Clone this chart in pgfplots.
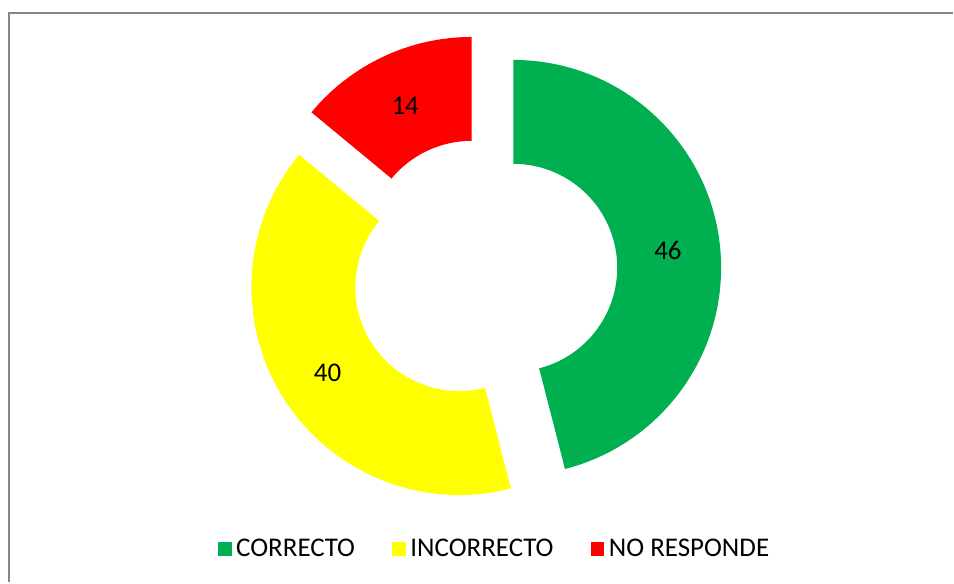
\documentclass[border=0pt]{standalone}
\usepackage{pgfplots}
\pgfplotsset{compat=1.18}
\usepackage{fontspec}
\setmainfont{Carlito}

\definecolor{cgreen}{HTML}{00B050}
\definecolor{cyellow}{HTML}{FFFF00}
\definecolor{cred}{HTML}{FF0000}
\definecolor{frame}{HTML}{868686}

% donut geometry (axis units = pt)
\def\cx{484.6}
\def\cy{311.3}
\def\Ro{208}
\def\Ri{104}
\def\dd{29.5}

% \slice{cum start}{cum end}{colour}{value}, percent of the whole, clockwise from top
\newcommand{\slice}[4]{%
  \pgfmathsetmacro\aS{90-3.6*#1}%
  \pgfmathsetmacro\aE{90-3.6*#2}%
  \pgfmathsetmacro\aM{(\aS+\aE)/2}%
  \pgfmathsetmacro\ox{\cx+\dd*cos(\aM)}%
  \pgfmathsetmacro\oy{\cy+\dd*sin(\aM)}%
  \pgfmathsetmacro\px{\ox+\Ro*cos(\aS)}%
  \pgfmathsetmacro\py{\oy+\Ro*sin(\aS)}%
  \pgfmathsetmacro\qx{\ox+\Ri*cos(\aE)}%
  \pgfmathsetmacro\qy{\oy+\Ri*sin(\aE)}%
  \pgfmathsetmacro\lx{\ox+(\Ro+\Ri)/2*cos(\aM)}%
  \pgfmathsetmacro\ly{\oy+(\Ro+\Ri)/2*sin(\aM)-2}%
  \edef\temp{%
    \noexpand\fill[#3] (axis cs:\px,\py) arc[start angle=\aS, end angle=\aE, radius=\Ro pt]
      -- (axis cs:\qx,\qy) arc[start angle=\aE, end angle=\aS, radius=\Ri pt] -- cycle;
    \noexpand\node[font=\noexpand\fontsize{27}{31}\noexpand\selectfont] at (axis cs:\lx,\ly) {#4};
  }\temp
}

\pgfplotsset{
  sq/.style={legend image code/.code={%
    \fill[#1] (0pt,-6.5pt) rectangle (13pt,6.5pt);
    \path (16pt,0pt);}},
}

\begin{document}
\begin{tikzpicture}
\begin{axis}[
    x=1pt, y=1pt,
    xmin=0, xmax=954,
    ymin=0, ymax=583,
    hide axis,
    clip=false,
    legend columns=3,
    legend style={
        at={(axis cs:495,34)}, anchor=center,
        draw=none, fill=none,
        font=\fontsize{27}{31}\selectfont,
        /tikz/every even column/.append style={column sep=35pt},
        /tikz/every odd column/.append style={column sep=0pt},
    },
]
\path (axis cs:0,0) rectangle (axis cs:954,583);
\draw[frame, line width=2pt] (axis cs:9.5,0) -- (axis cs:9.5,570) -- (axis cs:954,570);

% values: CORRECTO 46, INCORRECTO 40, NO RESPONDE 14
\slice{0}{46}{cgreen}{46}
\slice{46}{86}{cyellow}{40}
\slice{86}{100}{cred}{14}

\addlegendimage{sq=cgreen}
\addlegendentry{CORRECTO}
\addlegendimage{sq=cyellow}
\addlegendentry{INCORRECTO}
\addlegendimage{sq=cred}
\addlegendentry{NO RESPONDE}
\end{axis}
\end{tikzpicture}
\end{document}
